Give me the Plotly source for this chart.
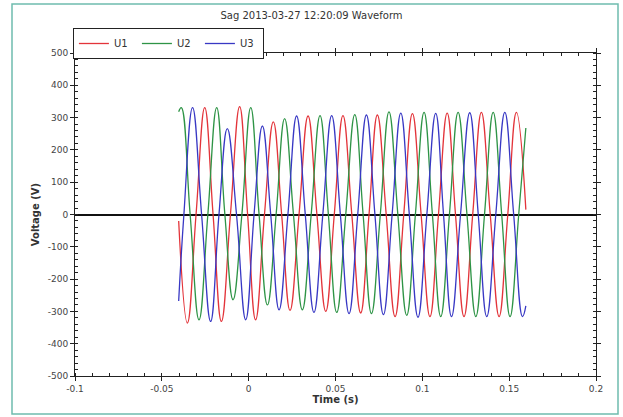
import plotly.graph_objects as go

# ---- data (extrema, zero crossings, start/end points) ----
u1_t = [-0.0403, -0.0353, -0.0303, -0.0253, -0.0205, -0.0157, -0.0105, -0.0052, -0.0006, 0.0040,
        0.0091, 0.0142, 0.0190, 0.0238, 0.0290, 0.0342, 0.0393, 0.0444, 0.0493, 0.0543,
        0.0594, 0.0645, 0.0693, 0.0741, 0.0792, 0.0843, 0.0893, 0.0943, 0.0993, 0.1044,
        0.1093, 0.1143, 0.1191, 0.1240, 0.1290, 0.1340, 0.1391, 0.1442, 0.1492, 0.1542, 0.1596]
u1_v = [-20, -336, 0, 331, 0, -331, 0, 334, 0, -326,
        0, 287, 0, -297, 0, 305, 0, -300, 0, 306,
        0, -305, 0, 308, 0, -316, 0, 312, 0, -316,
        0, 314, 0, -316, 0, 316, 0, -316, 0, 316, 15]

u2_t = [-0.0403, -0.0388, -0.0337, -0.0286, -0.0235, -0.0184, -0.0137, -0.0090, -0.0039, 0.0012,
        0.0060, 0.0108, 0.0158, 0.0207, 0.0258, 0.0309, 0.0360, 0.0411, 0.0459, 0.0507,
        0.0559, 0.0611, 0.0659, 0.0707, 0.0758, 0.0808, 0.0859, 0.0910, 0.0960, 0.1010,
        0.1058, 0.1106, 0.1156, 0.1206, 0.1257, 0.1308, 0.1358, 0.1408, 0.1457, 0.1505,
        0.1555, 0.1596]
u2_v = [318, 331, 0, -326, 0, 331, 0, -264, 0, 331,
        0, -280, 0, 297, 0, -295, 0, 306, 0, -303,
        0, 309, 0, -307, 0, 318, 0, -312, 0, 316,
        0, -316, 0, 316, 0, -316, 0, 316, 0, -316,
        0, 268]

u3_t = [-0.0403, -0.0373, -0.0323, -0.0271, -0.0219, -0.0171, -0.0123, -0.0070, -0.0017, 0.0031,
        0.0079, 0.0127, 0.0175, 0.0226, 0.0276, 0.0326, 0.0376, 0.0427, 0.0478, 0.0528,
        0.0578, 0.0628, 0.0678, 0.0727, 0.0776, 0.0826, 0.0876, 0.0925, 0.0975, 0.1026,
        0.1077, 0.1122, 0.1168, 0.1220, 0.1273, 0.1322, 0.1371, 0.1423, 0.1475, 0.1526,
        0.1577, 0.1596]
u3_v = [-268, 0, 331, 0, -331, 0, 266, 0, -326, 0,
        274, 0, -295, 0, 305, 0, -303, 0, 306, 0,
        -307, 0, 308, 0, -310, 0, 314, 0, -318, 0,
        313, 0, -316, 0, 315, 0, -316, 0, 316, 0,
        -316, -283]

x_ticks = [-0.1, -0.05, 0, 0.05, 0.1, 0.15, 0.2]
x_labels = ["-0.1", "-0.05", "0", "0.05", "0.1", "0.15", "0.2"]
y_ticks = [-500, -400, -300, -200, -100, 0, 100, 200, 300, 400, 500]
y_labels = ["-500", "-400", "-300", "-200", "-100", "0", "100", "200", "300", "400", "500"]

series = [("U1", u1_t, u1_v, "#e3343a"),
          ("U2", u2_t, u2_v, "#2e9446"),
          ("U3", u3_t, u3_v, "#3838c4")]

fig = go.Figure()
for name, t, v, c in series:
    fig.add_trace(go.Scatter(x=t, y=v, name=name, mode="lines",
                             line=dict(color=c, width=1.3, shape="spline", smoothing=1.25)))

W, H = 623, 417
ml, mr, mt, mb = 75, 27, 53, 41
pw, ph = W - ml - mr, H - mt - mb

axis_common = dict(showline=True, linecolor="#222", linewidth=1, mirror="allticks",
                   ticks="outside", ticklen=4, tickcolor="#222", showgrid=False,
                   automargin=False,
                   tickfont=dict(family="DejaVu Sans", size=9, color="#444"))

fig.update_xaxes(range=[-0.1, 0.2], tickvals=x_ticks, ticktext=x_labels,
                 zeroline=False,
                 minor=dict(dtick=0.01, ticks="inside", ticklen=3, tickcolor="#222"),
                 title=dict(text="<b>Time (s)</b>", font=dict(family="DejaVu Sans", size=10, color="#333"),
                            standoff=2),
                 **axis_common)
fig.update_yaxes(range=[-500, 500], tickvals=y_ticks, ticktext=y_labels,
                 zeroline=True, zerolinecolor="#111", zerolinewidth=1.5,
                 minor=dict(dtick=20, ticks="inside", ticklen=3, tickcolor="#222"),
                 title=dict(text="<b>Voltage (V)</b>", font=dict(family="DejaVu Sans", size=10, color="#333"),
                            standoff=6),
                 **axis_common)

# teal outer frame of the figure
fig.add_shape(type="rect", xref="paper", yref="paper",
              x0=(12 - ml) / pw, x1=(618 - ml) / pw,
              y0=(H - mb - 414) / ph, y1=(H - mb - 4) / ph,
              line=dict(color="#6fbcae", width=1.5), layer="below")

fig.update_layout(
    width=W, height=H,
    margin=dict(l=ml, r=mr, t=mt, b=mb, autoexpand=False),
    paper_bgcolor="white", plot_bgcolor="white",
    title=dict(text="Sag 2013-03-27 12:20:09 Waveform", x=0.5, xref="container",
               y=1 - 15 / H, yanchor="middle",
               font=dict(family="DejaVu Sans", size=10, color="#333")),
    legend=dict(orientation="h", x=-0.004, y=(H - mb - 28) / ph, xanchor="left", yanchor="top",
                bordercolor="#222", borderwidth=1, bgcolor="white",
                font=dict(family="DejaVu Sans", size=10, color="#333"),
                itemwidth=30, tracegroupgap=0, entrywidth=18, entrywidthmode="pixels"),
    showlegend=True,
)

fig.write_html("out.html", config={"displayModeBar": False},
               post_script="document.body.style.margin='0';document.body.style.padding='0';")
